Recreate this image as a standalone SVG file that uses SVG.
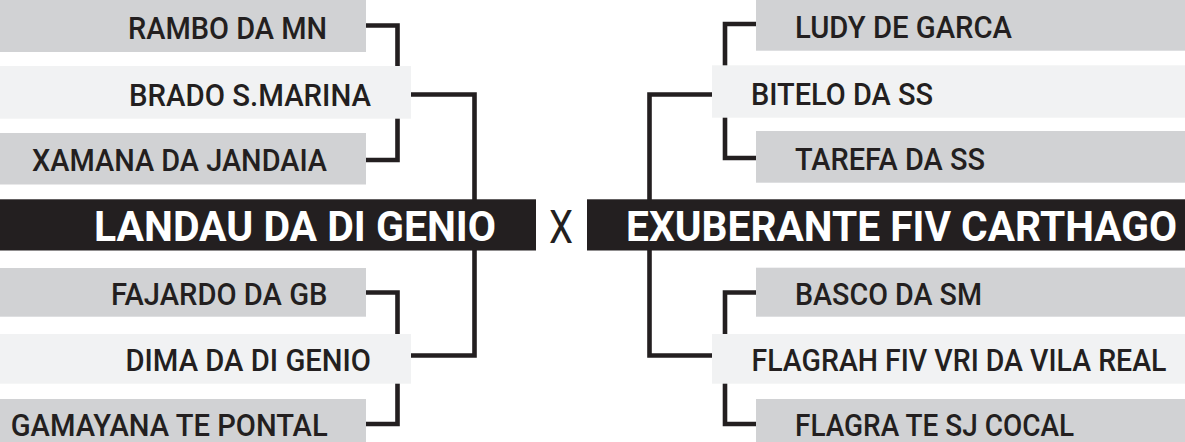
<svg xmlns="http://www.w3.org/2000/svg" width="1185" height="442" viewBox="0 0 1185 442">
<style>
.g{fill:#d1d2d4}
.l{fill:#f1f2f3}
.b{fill:#231f20}
.t{font-family:Roboto,"Liberation Sans",sans-serif;font-weight:500;font-size:31.5px;fill:#231f20}
.h{font-family:Roboto,"Liberation Sans",sans-serif;font-weight:700;font-size:43px;fill:#ffffff}
.x{font-family:Roboto,"Liberation Sans",sans-serif;font-weight:400;font-size:46px;fill:#231f20}
.c{fill:none;stroke:#231f20;stroke-width:4.6;stroke-linejoin:miter;stroke-linecap:butt}
</style>
<rect width="1185" height="442" fill="#ffffff"/>
<g id="connectors">
<path class="c" d="M366 25.5H397.5V160H366"/>
<path class="c" d="M411 94.5H474.5V355.5H411"/>
<path class="c" d="M366 292.5H397.5V424H366"/>
<path class="c" d="M756 24H725V158H756"/>
<path class="c" d="M712 94.5H649.5V355.5H712"/>
<path class="c" d="M756 292.5H725V424H756"/>
</g>
<g id="rambo"><rect class="g" x="0" y="0" width="366" height="52"/><text class="t" x="128" y="39.3" textLength="199" lengthAdjust="spacingAndGlyphs">RAMBO DA MN</text></g>
<g id="brado"><rect class="l" x="0" y="66" width="411" height="52.7"/><text class="t" x="129" y="106" textLength="242" lengthAdjust="spacingAndGlyphs">BRADO S.MARINA</text></g>
<g id="xamana"><rect class="g" x="0" y="133" width="366" height="51.5"/><text class="t" x="32" y="171" textLength="295" lengthAdjust="spacingAndGlyphs">XAMANA DA JANDAIA</text></g>
<g id="landau"><rect class="b" x="0" y="199.3" width="536" height="51.2"/><text class="h" x="94" y="241" textLength="402" lengthAdjust="spacingAndGlyphs">LANDAU DA DI GENIO</text></g>
<g id="fajardo"><rect class="g" x="0" y="268" width="366" height="48.7"/><text class="t" x="111" y="305" textLength="216.5" lengthAdjust="spacingAndGlyphs">FAJARDO DA GB</text></g>
<g id="dima"><rect class="l" x="0" y="334" width="411" height="49.7"/><text class="t" x="125.5" y="371" textLength="245.5" lengthAdjust="spacingAndGlyphs">DIMA DA DI GENIO</text></g>
<g id="gamayana"><rect class="g" x="0" y="399" width="366" height="43"/><text class="t" x="10.7" y="436" textLength="317" lengthAdjust="spacingAndGlyphs">GAMAYANA TE PONTAL</text></g>
<g id="versus"><text class="x" x="549" y="242.7" textLength="24" lengthAdjust="spacingAndGlyphs">X</text></g>
<g id="ludy"><rect class="g" x="756" y="0" width="429" height="50.7"/><text class="t" x="795" y="37.5" textLength="217" lengthAdjust="spacingAndGlyphs">LUDY DE GARCA</text></g>
<g id="bitelo"><rect class="l" x="712" y="65.3" width="473" height="52.4"/><text class="t" x="751" y="104.5" textLength="182" lengthAdjust="spacingAndGlyphs">BITELO DA SS</text></g>
<g id="tarefa"><rect class="g" x="756" y="131" width="429" height="51.7"/><text class="t" x="795" y="169.5" textLength="190" lengthAdjust="spacingAndGlyphs">TAREFA DA SS</text></g>
<g id="exuberante"><rect class="b" x="587" y="199.3" width="598" height="51.2"/><text class="h" x="626" y="241" textLength="551" lengthAdjust="spacingAndGlyphs">EXUBERANTE FIV CARTHAGO</text></g>
<g id="basco"><rect class="g" x="756" y="267.7" width="429" height="49"/><text class="t" x="795" y="305" textLength="187" lengthAdjust="spacingAndGlyphs">BASCO DA SM</text></g>
<g id="flagrah"><rect class="l" x="712" y="334" width="473" height="49.7"/><text class="t" x="751.5" y="371" textLength="415" lengthAdjust="spacingAndGlyphs">FLAGRAH FIV VRI DA VILA REAL</text></g>
<g id="flagra"><rect class="g" x="756" y="399" width="429" height="43"/><text class="t" x="795" y="436" textLength="279" lengthAdjust="spacingAndGlyphs">FLAGRA TE SJ COCAL</text></g>
</svg>
